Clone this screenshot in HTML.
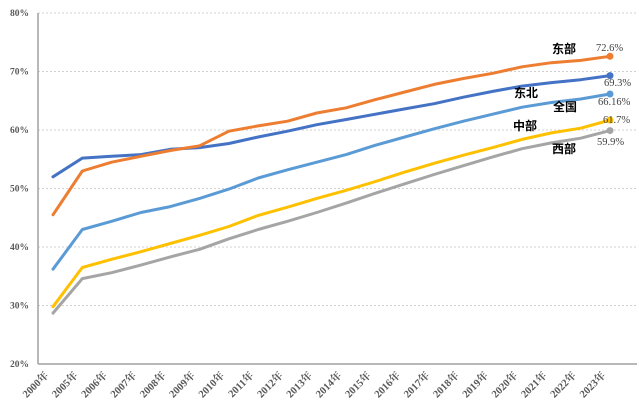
<!DOCTYPE html>
<html><head><meta charset="utf-8"><style>
html,body{margin:0;padding:0;background:#fff;}
svg{display:block;}
</style></head><body>
<svg id="c" width="639" height="408" xmlns="http://www.w3.org/2000/svg"></svg>
<script>
const s=document.getElementById('c');
const ns='http://www.w3.org/2000/svg';
function el(t,a,txt){const e=document.createElementNS(ns,t);for(const k in a)e.setAttribute(k,a[k]);if(txt!==undefined)e.textContent=txt;s.appendChild(e);return e;}
const Y=v=>364-(v-20)*5.85;
const X=i=>53+i*(557/19);
for(let v=30;v<=80;v+=10){el('line',{x1:38,x2:637,y1:Y(v),y2:Y(v),stroke:'#d0d0d0','stroke-dasharray':'2,2','stroke-width':1});}
for(let v=20;v<=80;v+=10){el('text',{x:29,y:Y(v)+3,'text-anchor':'end','font-family':'Liberation Serif, serif','font-size':9.5,'font-weight':'bold',fill:'#595959'},v+'%');}
el('line',{x1:38,x2:38,y1:13,y2:364,stroke:'#a0a0a0','stroke-width':1.5});
el('line',{x1:38,x2:637,y1:364,y2:364,stroke:'#a0a0a0','stroke-width':1.5});
const yrs=[2000];for(let y=2005;y<=2023;y++)yrs.push(y);
yrs.forEach((y,i)=>{const x=X(i)-4,yy=376;el('text',{x:x,y:yy,'text-anchor':'end','font-family':'Liberation Serif, Noto Serif CJK SC, serif','font-size':10.5,'font-weight':'bold',fill:'#595959',transform:`rotate(-45 ${x} ${yy})`},y+'年');});
const D={
'#A5A5A5':[28.7,34.6,35.6,36.9,38.3,39.6,41.4,43.0,44.4,45.9,47.5,49.2,50.8,52.4,53.9,55.4,56.8,57.8,58.6,59.9],
'#FFC000':[29.8,36.5,37.9,39.2,40.6,42.0,43.5,45.4,46.8,48.3,49.7,51.2,52.8,54.3,55.7,57.0,58.4,59.5,60.3,61.7],
'#5B9BD5':[36.2,43,44.4,45.9,46.9,48.3,49.9,51.8,53.2,54.5,55.8,57.4,58.8,60.2,61.5,62.7,63.9,64.7,65.3,66.16],
'#4472C4':[52,55.2,55.5,55.8,56.7,57,57.7,58.8,59.8,60.9,61.8,62.7,63.6,64.5,65.6,66.6,67.5,68.1,68.6,69.3],
'#ED7D31':[45.5,53,54.5,55.5,56.5,57.3,59.8,60.7,61.5,62.9,63.8,65.2,66.5,67.8,68.8,69.7,70.8,71.5,71.9,72.6]};
for(const c in D){const p=D[c].map((v,i)=>X(i).toFixed(1)+','+Y(v).toFixed(1)).join(' ');
el('polyline',{points:p,fill:'none',stroke:c,'stroke-width':3,'stroke-linejoin':'round','stroke-linecap':'round'});
el('circle',{cx:X(19),cy:Y(D[c][19]),r:3.5,fill:c});}
const L=[['东部',552,53],['东北',514,97],['全国',553,111],['中部',513,130],['西部',552,153]];
L.forEach(l=>el('text',{x:l[1],y:l[2],'font-family':'Liberation Sans, Noto Sans CJK SC, sans-serif','font-size':12,'font-weight':'bold',fill:'#000'},l[0]));
const V=[['72.6%',596,51],['69.3%',604,86],['66.16%',598,105],['61.7%',603,123],['59.9%',597,145]];
V.forEach(l=>el('text',{x:l[1],y:l[2],'font-family':'Liberation Serif, serif','font-size':10.5,fill:'#404040'},l[0]));
</script>
</body></html>
